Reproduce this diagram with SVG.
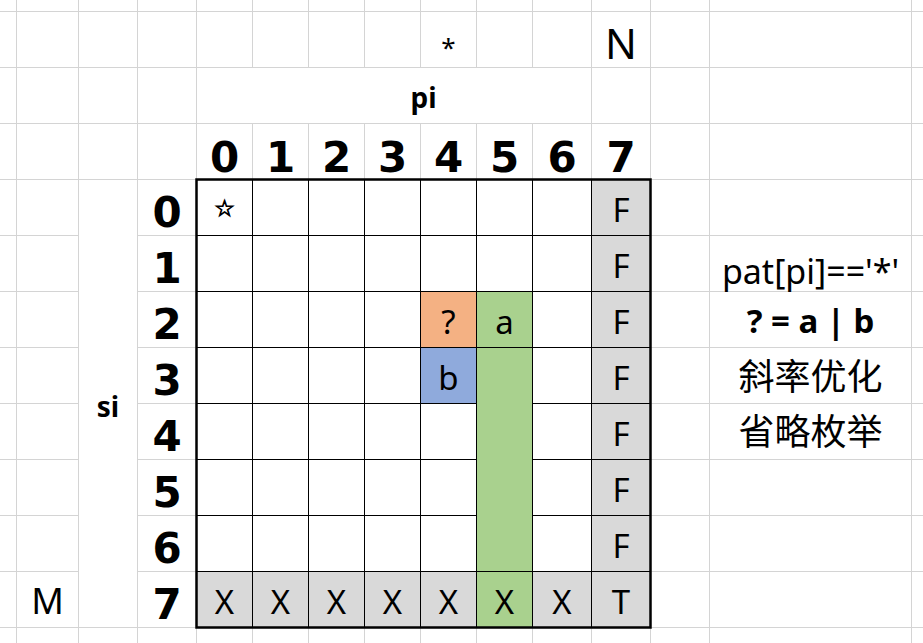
<svg xmlns="http://www.w3.org/2000/svg" width="923" height="643" viewBox="0 0 923 643">
<style>
.grid{stroke:#d4d4d4;stroke-width:1;fill:none}
.tl{stroke:#000;stroke-width:1;fill:none}
.tb{stroke:#000;stroke-width:2.5;fill:none}
.g{fill:#d9d9d9}
.hd{font-family:"DejaVu Sans","Liberation Sans",sans-serif;font-weight:bold;font-size:42px;text-anchor:middle;fill:#000}
.c{font-family:"Noto Sans","Liberation Sans",sans-serif;font-size:33px;text-anchor:middle;fill:#000}
.lb{font-family:"Noto Sans","Liberation Sans",sans-serif;font-weight:bold;font-size:28px;text-anchor:middle;fill:#000}
.cjk{font-family:"Noto Sans","Noto Sans CJK SC",sans-serif;font-size:36px;text-anchor:middle;fill:#000}
</style>
<rect width="923" height="643" fill="#fff"/>
<g id="gridlines">
<path class="grid" d="M16.5 0V643M78.5 0V643M137.5 0V643M196.5 0V643M591.5 0V643M650.5 0V643M709.5 0V643M911.5 0V643
M252.5 0V67.5M252.5 123.5V643M308.5 0V67.5M308.5 123.5V643M364.5 0V67.5M364.5 123.5V643M420.5 0V67.5M420.5 123.5V643M476.5 0V67.5M476.5 123.5V643M532.5 0V67.5M532.5 123.5V643"/>
<path class="grid" d="M0 11.5H923M0 67.5H923M0 123.5H923M0 179.5H923M0 627.5H923
M0 235.5H78.5M137.5 235.5H923M0 291.5H78.5M137.5 291.5H923M0 347.5H78.5M137.5 347.5H923M0 403.5H78.5M137.5 403.5H923M0 459.5H78.5M137.5 459.5H923M0 515.5H78.5M137.5 515.5H923M0 571.5H78.5M137.5 571.5H923"/>
</g>
<g id="table">
<rect x="196.5" y="179.5" width="454" height="448" fill="#fff"/>
<rect class="g" x="591.5" y="179.5" width="59" height="448"/>
<rect class="g" x="196.5" y="571.5" width="395" height="56"/>
<rect x="476.5" y="291.5" width="56" height="336" fill="#a9d18e"/>
<rect x="420.5" y="291.5" width="56" height="56" fill="#f4b183"/>
<rect x="420.5" y="347.5" width="56" height="56" fill="#8faadc"/>
<path class="tl" d="M252.5 179.5V627.5M308.5 179.5V627.5M364.5 179.5V627.5M420.5 179.5V627.5M476.5 179.5V627.5M532.5 179.5V627.5M591.5 179.5V627.5
M196.5 235.5H650.5M196.5 291.5H650.5M196.5 347.5H650.5M196.5 571.5H650.5
M196.5 403.5H476.5M532.5 403.5H650.5M196.5 459.5H476.5M532.5 459.5H650.5M196.5 515.5H476.5M532.5 515.5H650.5"/>
<rect class="tb" x="196.5" y="179.5" width="454" height="448"/>
</g>
<g id="labels">
<text class="c" x="448.5" y="57" style="font-size:26px">*</text>
<text class="c" x="621" y="59" style="font-size:42px">N</text>
<text class="lb" x="423.5" y="108">pi</text>
<text class="lb" x="108" y="417">si</text>
<text class="c" x="47.5" y="614" style="font-size:36px">M</text>
</g>
<g id="col-headers">
<text class="hd" x="224.5" y="171.5">0</text>
<text class="hd" x="280.5" y="171.5">1</text>
<text class="hd" x="336.5" y="171.5">2</text>
<text class="hd" x="392.5" y="171.5">3</text>
<text class="hd" x="448.5" y="171.5">4</text>
<text class="hd" x="504.5" y="171.5">5</text>
<text class="hd" x="562" y="171.5">6</text>
<text class="hd" x="621" y="171.5">7</text>
</g>
<g id="row-headers">
<text class="hd" x="167" y="227">0</text>
<text class="hd" x="167" y="283">1</text>
<text class="hd" x="167" y="339">2</text>
<text class="hd" x="167" y="395">3</text>
<text class="hd" x="167" y="451">4</text>
<text class="hd" x="167" y="507">5</text>
<text class="hd" x="167" y="563">6</text>
<text class="hd" x="167" y="619">7</text>
</g>
<g id="cells">
<text x="224.5" y="216" style="font-family:'DejaVu Sans',sans-serif;font-size:23px;text-anchor:middle;stroke:#000;stroke-width:0.9">☆</text>
<text class="c" x="621" y="221.5">F</text>
<text class="c" x="621" y="277.5">F</text>
<text class="c" x="621" y="333.5">F</text>
<text class="c" x="621" y="389.5">F</text>
<text class="c" x="621" y="445.5">F</text>
<text class="c" x="621" y="501.5">F</text>
<text class="c" x="621" y="557.5">F</text>
<text class="c" x="621" y="613.5">T</text>
<text class="c" x="224.5" y="614">X</text>
<text class="c" x="280.5" y="614">X</text>
<text class="c" x="336.5" y="614">X</text>
<text class="c" x="392.5" y="614">X</text>
<text class="c" x="448.5" y="614">X</text>
<text class="c" x="504.5" y="614">X</text>
<text class="c" x="562" y="614">X</text>
<text class="c" x="448.5" y="333.5">?</text>
<text class="c" x="504.5" y="333.5">a</text>
<text class="c" x="448.5" y="389.5">b</text>
</g>
<g id="notes">
<text class="cjk" x="810.5" y="284" style="font-size:34px">pat[pi]=='*'</text>
<text class="lb" x="810.5" y="333" style="font-size:33px">? = a | b</text>
<text class="cjk" x="810.5" y="390">斜率优化</text>
<text class="cjk" x="810.5" y="445">省略枚举</text>
</g>
</svg>
